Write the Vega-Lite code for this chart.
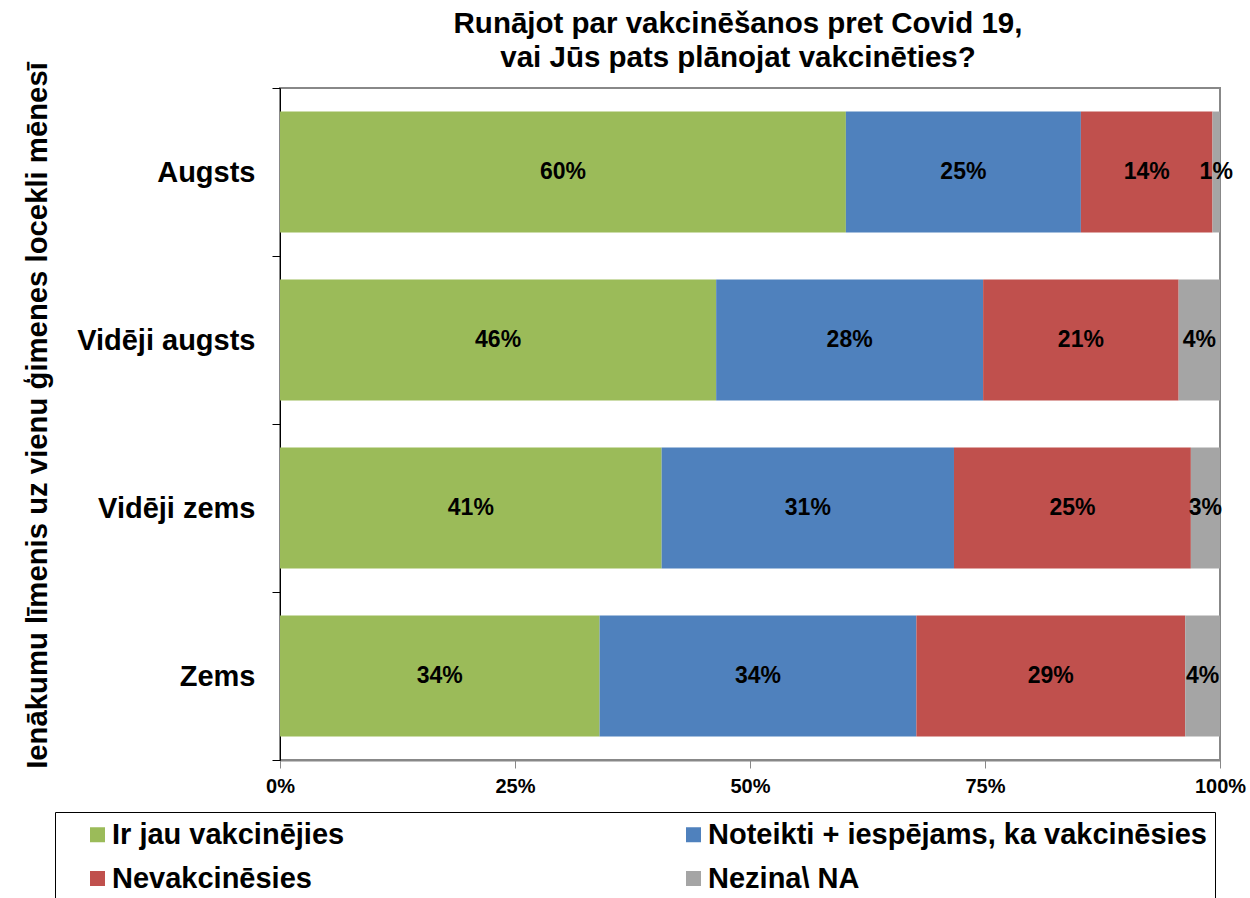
{
  "$schema": "https://vega.github.io/schema/vega-lite/v6.json",
  "autosize": "none",
  "width": 940,
  "height": 672,
  "padding": {"left": 280, "top": 88, "right": 30, "bottom": 138},
  "background": "white",
  "title": {
    "text": ["Runājot par vakcinēšanos pret Covid 19,", "vai Jūs pats plānojat vakcinēties?"],
    "font": "Liberation Sans",
    "fontSize": 29.5,
    "fontWeight": "bold",
    "color": "black",
    "lineHeight": 34,
    "offset": -12,
    "dx": -12
  },
  "data": {
    "values": [
      {"group": "Augsts", "cat": "Ir jau vakcinējies", "k": 1, "v": 0.602},
      {"group": "Augsts", "cat": "Noteikti + iespējams, ka vakcinēsies", "k": 2, "v": 0.250},
      {"group": "Augsts", "cat": "Nevakcinēsies", "k": 3, "v": 0.140},
      {"group": "Augsts", "cat": "Nezina\\ NA", "k": 4, "v": 0.008},
      {"group": "Vidēji augsts", "cat": "Ir jau vakcinējies", "k": 1, "v": 0.464},
      {"group": "Vidēji augsts", "cat": "Noteikti + iespējams, ka vakcinēsies", "k": 2, "v": 0.284},
      {"group": "Vidēji augsts", "cat": "Nevakcinēsies", "k": 3, "v": 0.208},
      {"group": "Vidēji augsts", "cat": "Nezina\\ NA", "k": 4, "v": 0.044},
      {"group": "Vidēji zems", "cat": "Ir jau vakcinējies", "k": 1, "v": 0.406},
      {"group": "Vidēji zems", "cat": "Noteikti + iespējams, ka vakcinēsies", "k": 2, "v": 0.311},
      {"group": "Vidēji zems", "cat": "Nevakcinēsies", "k": 3, "v": 0.252},
      {"group": "Vidēji zems", "cat": "Nezina\\ NA", "k": 4, "v": 0.031},
      {"group": "Zems", "cat": "Ir jau vakcinējies", "k": 1, "v": 0.340},
      {"group": "Zems", "cat": "Noteikti + iespējams, ka vakcinēsies", "k": 2, "v": 0.337},
      {"group": "Zems", "cat": "Nevakcinēsies", "k": 3, "v": 0.286},
      {"group": "Zems", "cat": "Nezina\\ NA", "k": 4, "v": 0.037}
    ]
  },
  "encoding": {
    "y": {
      "field": "group",
      "type": "nominal",
      "sort": ["Augsts", "Vidēji augsts", "Vidēji zems", "Zems"],
      "scale": {"paddingInner": 0.28, "paddingOuter": 0.14},
      "axis": {
        "title": "Ienākumu līmenis uz vienu ģimenes locekli mēnesī",
        "titleFont": "Liberation Sans",
        "titleFontSize": 29.3,
        "titleFontWeight": "bold",
        "titleColor": "black",
        "titlePadding": 28,
        "titleY": 327,
        "labelFont": "Liberation Sans",
        "labelFontSize": 29,
        "labelFontWeight": "bold",
        "labelColor": "black",
        "labelPadding": 17,
        "labelLimit": 400,
        "labelOffset": 23.5,
        "domainColor": "black",
        "domainWidth": 1,
        "ticks": true,
        "bandPosition": 1.388,
        "tickOffset": -23.5,
        "tickExtra": true,
        "tickColor": "black",
        "tickSize": 8
      }
    }
  },
  "layer": [
    {
      "mark": {"type": "bar"},
      "encoding": {
        "x": {
          "field": "v",
          "type": "quantitative",
          "stack": "zero",
          "scale": {"domain": [0, 1]},
          "axis": {
            "title": null,
            "values": [0, 0.25, 0.5, 0.75, 1],
            "format": ".0%",
            "grid": false,
            "labelFlush": false,
            "labelFont": "Liberation Sans",
            "labelFontSize": 20,
            "labelFontWeight": "bold",
            "labelColor": "black",
            "labelPadding": 8,
            "domainColor": "#888888",
            "domainWidth": 2,
            "tickColor": "#888888",
            "tickSize": 8
          }
        },
        "color": {
          "field": "cat",
          "type": "nominal",
          "sort": ["Ir jau vakcinējies", "Noteikti + iespējams, ka vakcinēsies", "Nevakcinēsies", "Nezina\\ NA"],
          "scale": {
            "domain": ["Ir jau vakcinējies", "Noteikti + iespējams, ka vakcinēsies", "Nevakcinēsies", "Nezina\\ NA"],
            "range": ["#9BBB59", "#4F81BD", "#C0504D", "#A5A5A5"]
          },
          "legend": {
            "title": null,
            "orient": "none",
            "legendX": -225,
            "legendY": 724,
            "direction": "horizontal",
            "columns": 2,
            "gridAlign": "all",
            "columnPadding": 48,
            "rowPadding": 14,
            "padding": 8,
            "symbolOffset": 20,
            "symbolType": "square",
            "symbolSize": 225,
            "symbolStrokeWidth": 0,
            "labelFont": "Liberation Sans",
            "labelFontSize": 29,
            "labelFontWeight": "bold",
            "labelColor": "black",
            "labelOffset": 0,
            "labelLimit": 700,
            "strokeColor": "black",
            "fillColor": "white"
          }
        },
        "order": {"field": "k", "type": "quantitative"}
      }
    },
    {
      "mark": {"type": "text", "font": "Liberation Sans", "fontSize": 23, "fontWeight": "bold", "color": "black"},
      "encoding": {
        "x": {"field": "v", "type": "quantitative", "stack": "zero", "bandPosition": 0.5},
        "text": {"field": "v", "type": "quantitative", "format": ".0%"},
        "detail": {"field": "cat", "type": "nominal"},
        "order": {"field": "k", "type": "quantitative"}
      }
    }
  ],
  "config": {
    "view": {"stroke": "#888888", "strokeWidth": 2}
  }
}
